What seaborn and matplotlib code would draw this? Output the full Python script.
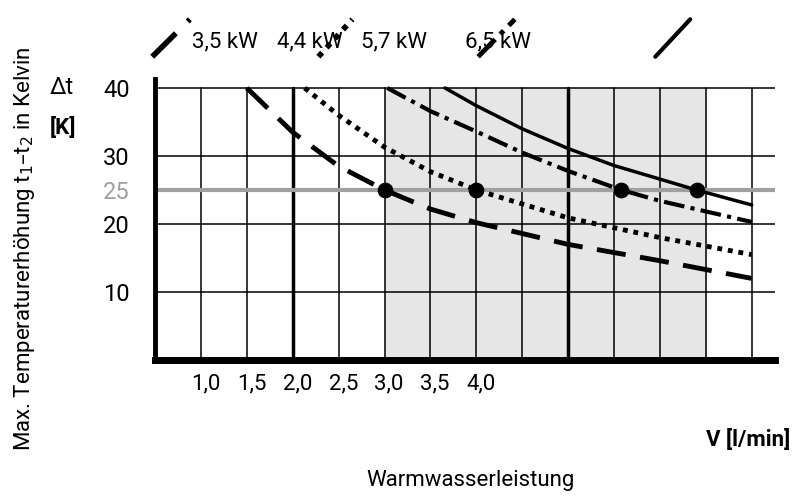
import seaborn as sns
import pandas as pd
import matplotlib.pyplot as plt

# curves (x = V in l/min on the grid scale, y = delta t in K)
power_labels = ['3,5 kW', '4,4 kW', '5,7 kW', '6,5 kW']
x_35 = [1.5, 2.0, 2.5, 3.0, 3.5, 4.0, 5.0, 6.0, 7.0]
y_35 = [40, 33.5, 28.5, 25, 22.2, 20.2, 17, 14.6, 12]
x_44 = [2.13, 2.5, 3.0, 3.5, 4.0, 5.0, 6.0, 7.0]
y_44 = [40, 36, 31.3, 27.7, 25, 20.9, 18, 15.5]
x_57 = [3.03, 3.5, 4.0, 4.5, 5.0, 5.58, 6.0, 7.0]
y_57 = [40, 36.6, 33.6, 30.5, 27.8, 25, 23.4, 20.3]
x_65 = [3.66, 4.0, 4.5, 5.0, 5.5, 6.0, 6.4, 7.0]
y_65 = [40, 37.4, 34, 31.1, 28.6, 26.6, 25, 22.8]
dot_x = [3.0, 4.0, 5.58, 6.4]
dot_y = [25, 25, 25, 25]

x_tick_labels = ['1,0', '1,5', '2,0', '2,5', '3,0', '3,5', '4,0']
x_tick_pos = [1.0, 1.5, 2.0, 2.5, 3.0, 3.5, 4.0]
y_ticks = [10, 20, 25, 30, 40]

# little slanted key marks above the chart
key_x = [[0.47, 0.88], [2.28, 2.65], [4.02, 4.42], [5.95, 6.33]]
key_y = [44.6, 50.1]
label_x = [1.26, 2.19, 3.10, 4.24]

styles = [dict(ls=(0, (6, 3)), lw=3.5), dict(ls=(0, (1, 1.2)), lw=3.5),
          dict(ls=(0, (5, 1.5, 1, 1.5)), lw=3), dict(ls='-', lw=2.5)]

sns.set_style('white')
plt.rcParams['font.family'] = ['Roboto', 'DejaVu Sans']
plt.rcParams['text.color'] = 'black'
plt.rcParams['axes.edgecolor'] = 'black'
plt.rcParams['xtick.color'] = 'black'
plt.rcParams['ytick.color'] = 'black'
fig = plt.figure(figsize=(7.98, 4.98), dpi=100)
ax = fig.add_axes([155 / 798, 138 / 498, 620 / 798, 283 / 498])
xmax = 0.5 + 620 / 91.8
ymax = 283 / 6.8
ax.set_xlim(0.5, xmax)
ax.set_ylim(0, ymax)

# shaded region and grid
ax.axvspan(3.0, 6.5, ymax=40 / ymax, color='#e6e6e6', zorder=0)
for i in range(1, 14):
    xv = 0.5 + 0.5 * i
    bold = xv in (2.0, 5.0)
    ax.axvline(xv, ymax=40 / ymax, color='black', lw=2.5 if bold else 1.1, zorder=1)
for yv in [10, 20, 30, 40]:
    ax.axhline(yv, color='black', lw=1.1, zorder=1)
ax.axhline(25, color='#a0a0a0', lw=3, zorder=1)

datasets = [(x_35, y_35), (x_44, y_44), (x_57, y_57), (x_65, y_65)]
for (xs, ys), st in zip(datasets, styles):
    df = pd.DataFrame({'V': xs, 'dt': ys})
    sns.lineplot(data=df, x='V', y='dt', ax=ax, color='black', linestyle=st['ls'],
                 lw=st['lw'], zorder=3)
sns.scatterplot(x=dot_x, y=dot_y, ax=ax, color='black', s=110, zorder=4, edgecolor='black')

for kx, st in zip(key_x, styles):
    ax.plot(kx, key_y, color='black', ls=st['ls'], lw=st['lw'] + 0.5, clip_on=False)
for lab, cx in zip(power_labels, label_x):
    ax.text(cx, 46.8, lab, fontsize=16, ha='center', va='center')

# axes styling
for s in ['top', 'right']:
    ax.spines[s].set_visible(False)
ax.spines['bottom'].set_linewidth(5)
ax.spines['left'].set_linewidth(3.5)
ax.spines['left'].set_bounds(0, 41.3)
ax.set_yticks(y_ticks)
ax.set_yticklabels([str(t) for t in y_ticks], fontsize=17)
ax.tick_params(axis='y', length=15, width=1.2, direction='out', pad=3)
ax.get_yticklabels()[2].set_color('#a0a0a0')
ax.yaxis.get_major_ticks()[2].tick1line.set_color('#a0a0a0')
ax.set_xticks([1, 2, 3, 4, 5, 6, 7])
ax.set_xticklabels([])
ax.tick_params(axis='x', length=8, width=1.3, direction='out')
for p, lab in zip(x_tick_pos, x_tick_labels):
    ax.text(p + 0.05, -3.5, lab, fontsize=16, ha='center', va='center')
ax.set_xlabel('')
ax.set_ylabel('')

fig.text(62 / 798, 1 - 88 / 498, 'Δt', fontsize=17, ha='center', va='center')
fig.text(63 / 798, 1 - 128 / 498, '[K]', fontsize=16, fontweight='bold', ha='center', va='center')
fig.text(748 / 798, 1 - 440 / 498, 'V [l/min]', fontsize=16, fontweight='bold', ha='center', va='center')
fig.text(470 / 798, 1 - 480 / 498, 'Warmwasserleistung', fontsize=16, ha='center', va='center')
fig.text(25 / 798, 0.5, 'Max. Temperaturerhöhung t$_1$–t$_2$ in Kelvin', fontsize=16,
         rotation=90, ha='center', va='center')

fig.savefig('out.png', dpi=100)
